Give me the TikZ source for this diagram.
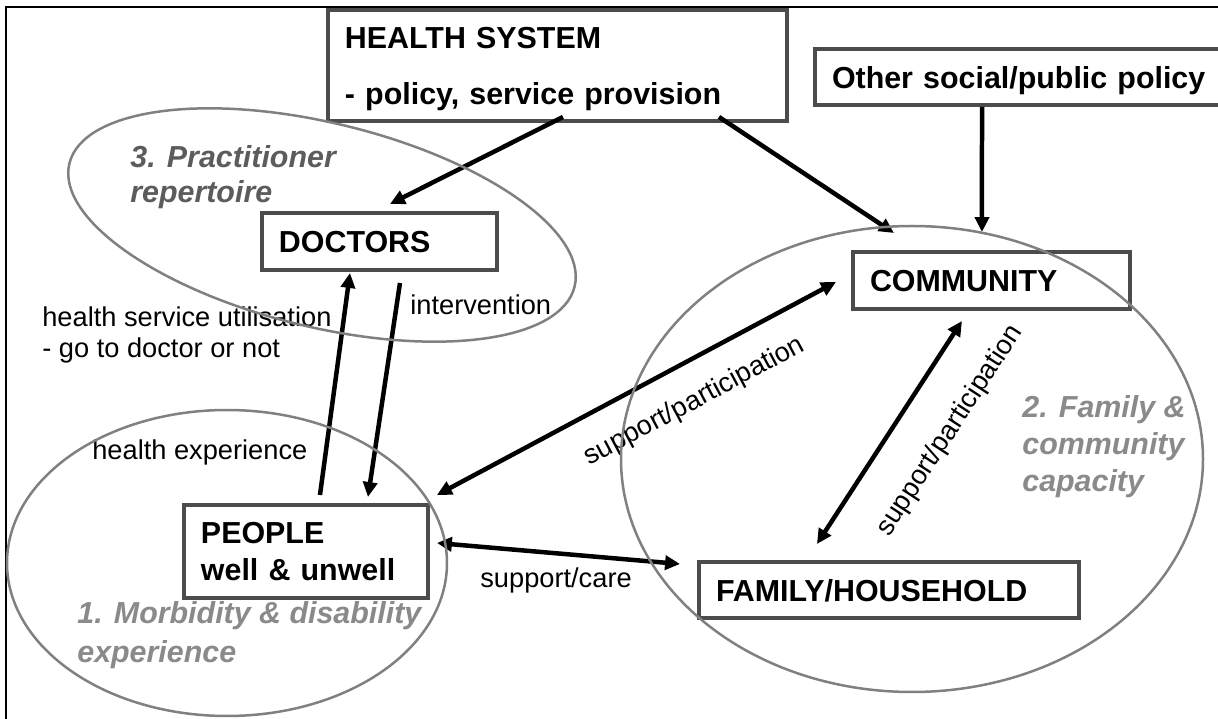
\documentclass[tikz,border=0pt]{standalone}
\usepackage{fontspec}
\setmainfont{Liberation Sans}
\usepackage{tikz}
\usetikzlibrary{arrows.meta,calc}
\tikzset{>={Triangle[length=8.5pt,width=8pt]}}
\definecolor{boxgray}{gray}{0.3}
\definecolor{ringgray}{gray}{0.5}
\definecolor{tagdark}{gray}{0.36}
\definecolor{taglight}{gray}{0.54}
\newcommand\boxfont{\fontsize{17.3}{21}\selectfont\bfseries}
\newcommand\labfont{\fontsize{15.5}{17.7}\selectfont}

\begin{document}
\begin{tikzpicture}[x=0.02cm,y=-0.02cm,font=\labfont]

\tikzstyle{box}=[draw=boxgray,line width=0.065cm,font=\boxfont,align=left,anchor=north west,
  inner xsep=0.34cm,inner ysep=0pt,outer sep=0pt,text depth=0pt]
\tikzstyle{arr}=[->,line width=0.09cm]
\tikzstyle{darr}=[<->,line width=0.09cm]
\tikzstyle{ring}=[draw=ringgray,line width=0.05cm]
\tikzstyle{lab}=[inner sep=0pt]
\tikzstyle{tag}=[inner sep=0pt,align=left,anchor=north west,font=\boxfont\itshape]
\tikzstyle{slab}=[sloped,inner sep=0pt]

  \useasboundingbox (0,0) rectangle (1218,719);
  \clip (0,0) rectangle (1218,719);
  \draw[line width=0.05cm] (6,7) rectangle (1260,760);

  \node[box,text width=8.5cm,minimum height=2.22cm,text depth=1.12cm] (hs) at (328,10)
    {HEALTH SYSTEM\\[10.9pt]- policy, service provision};
  \node[box,text width=7.66cm,minimum height=1.12cm] (osp) at (815,49) {Other social/public policy};
  \node[box,text width=4.02cm,minimum height=1.14cm] (doc) at (262,213) {DOCTORS};
  \node[box,text width=4.86cm,minimum height=1.14cm] (com) at (853,252) {COMMUNITY};
  \node[box,text width=4.2cm,minimum height=1.86cm,text depth=0.74cm] (ppl) at (184,505)
    {PEOPLE\\well \& unwell};
  \node[box,text width=6.92cm,minimum height=1.12cm] (fam) at (699,562) {FAMILY/HOUSEHOLD};

  \node[tag,text=tagdark] (t3) at (130,145) {3. Practitioner\\[-1.1pt]repertoire};
  \node[tag,text=taglight] (t1) at (77,601) {1. Morbidity \& disability\\[1.2pt]experience};
  \node[tag,text=taglight] (t2) at (1022,395) {2. Family \&\\community\\capacity};

  \node[lab,align=left,anchor=north west] (use) at (42,306) {health service utilisation\\- go to doctor or not};
  \node[lab,anchor=base west] (intv) at (410,315) {intervention};
  \node[lab,anchor=base west] (hexp) at (92,460) {health experience};
  \node[lab,anchor=base west] (care) at (480,588) {support/care};

  \draw[arr] ($(hs.south)+(5.5,-4)$) -- ($(doc.north)+(10.5,-9)$);
  \draw[arr] ($(hs.south)+(161.5,-4)$) -- ($(com.north)+(-97.5,-19)$);
  \draw[arr] ($(osp.south west)+(167,2)$) -- ($(com.north)+(-9.5,-20)$);
  \draw[arr] ($(ppl.north)+(14,-10)$) -- ($(doc.south)+(-29.5,3)$);
  \draw[arr] ($(doc.south)+(20.5,13)$) -- ($(ppl.north)+(62,-8)$);
  \draw[darr] ($(ppl.north east)+(9,-10)$) --
    node[slab,pos=0.6,below=0.48cm] (sp1) {support/participation} ($(com.west)+(-17,1.5)$);
  \draw[darr] ($(fam.north)+(-72,-18)$) --
    node[slab,pos=0.63,below=0.7cm] (sp2) {support/participation} ($(com.south)+(-29.5,12)$);
  \draw[darr] ($(ppl.east)+(9,-8.5)$) -- ($(fam.west)+(-19,-26)$);

  \draw[ring] (322,225) circle [x radius=260, y radius=102, rotate=-13.7];
  \draw[ring] (227,563) circle [x radius=220, y radius=153];
  \draw[ring] (912,459) circle [x radius=291, y radius=233];
\end{tikzpicture}
\end{document}
